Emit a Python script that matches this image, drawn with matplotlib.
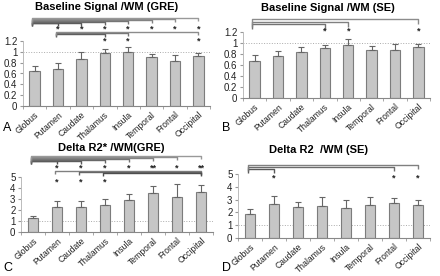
import matplotlib.pyplot as plt
import numpy as np

plt.rcParams['font.family'] = ['Liberation Sans', 'DejaVu Sans']

regions = ['Globus', 'Putamen', 'Caudate', 'Thalamus', 'Insula', 'Temporal', 'Frontal', 'Occipital']

# values and upper error bar lengths
gre_base = [0.64, 0.69, 0.87, 0.97, 1.00, 0.90, 0.84, 0.92]
gre_base_err = [0.10, 0.10, 0.12, 0.08, 0.09, 0.06, 0.11, 0.06]
se_base = [0.68, 0.77, 0.84, 0.91, 0.97, 0.88, 0.87, 0.93]
se_base_err = [0.10, 0.08, 0.09, 0.05, 0.11, 0.07, 0.11, 0.05]
gre_r2 = [1.28, 2.30, 2.30, 2.48, 2.95, 3.58, 3.15, 3.65]
gre_r2_err = [0.17, 0.48, 0.55, 0.52, 0.50, 0.57, 1.25, 0.58]
se_r2 = [1.85, 2.68, 2.40, 2.52, 2.37, 2.55, 2.70, 2.60]
se_r2_err = [0.45, 0.62, 0.40, 0.65, 0.62, 0.63, 0.45, 0.35]

# significance brackets: (from, to) index pairs and star labels
a_row1 = [(0, k) for k in range(1, 8)]
a_row1_stars = ['*'] * 7
a_row2 = [(1, 3), (1, 4), (1, 7)]
a_row2_stars = ['*', '*', '*']
b_row1 = [(0, 3), (0, 4), (0, 7)]
b_row1_stars = ['*', '*', '*']
c_row1 = [(0, k) for k in range(1, 8)]
c_row1_stars = ['*', '*', '*', '*', '**', '*', '**']
c_row2 = [(1, 7), (2, 7), (3, 7)]
c_row2_stars = ['*', '*', '*']
d_row1 = [(0, 1), (0, 6), (0, 7)]
d_row1_stars = ['*', '*', '*']

W, H = 440, 276
fig = plt.figure(figsize=(4.4, 2.76), dpi=100)


def make_axes(left, right, top_px, bottom_px):
    return fig.add_axes([left / W, 1 - bottom_px / H, (right - left) / W, (bottom_px - top_px) / H])


def draw_bars(ax, vals, errs, ymax, ystep, xlim):
    x = np.arange(len(regions))
    ax.bar(x, vals, width=0.45, color='#c6c6c6', edgecolor='#7c7c7c', linewidth=0.8, zorder=2)
    ax.errorbar(x, vals, yerr=[np.zeros(len(vals)), errs], fmt='none',
                ecolor='#666666', elinewidth=0.8, capsize=2, capthick=0.8, zorder=3)
    ax.axhline(1, color='#aaaaaa', linestyle=':', linewidth=0.7, zorder=1)
    ax.set_xlim(*xlim)
    ax.set_ylim(0, ymax)
    ticks = np.arange(0, ymax + 1e-9, ystep)
    ax.set_yticks(ticks)
    ax.set_yticklabels([f'{t:g}' for t in ticks], fontsize=7, color='#222222')
    ax.set_xticks(x)
    ax.set_xticklabels(regions, rotation=42, ha='right', rotation_mode='anchor',
                       fontsize=6.2, color='#222222')
    ax.set_xticks(np.arange(-0.5, len(regions), 1), minor=True)
    ax.tick_params(axis='x', which='major', length=0, pad=3)
    ax.tick_params(axis='x', which='minor', length=2, color='#999999')
    ax.tick_params(axis='y', length=2, color='#999999', pad=2)
    for s in ['top', 'right']:
        ax.spines[s].set_visible(False)
    ax.spines['left'].set_color('#bbbbbb')
    ax.spines['bottom'].set_color('#888888')
    ax.spines['left'].set_linewidth(0.7)
    ax.spines['bottom'].set_linewidth(0.8)


def stack(ax, pairs, y_top_px, ax_top_px, ax_h_px, step_px, drop_px, dark, light, longest_on_top=True):
    tr = ax.get_xaxis_transform()
    n = len(pairs)
    for i, (a, b) in enumerate(pairs):
        k = (n - 1 - i) if longest_on_top else i
        y_px = y_top_px + k * step_px
        y = 1 + (ax_top_px - y_px) / ax_h_px
        yd = y - drop_px / ax_h_px
        shade = dark + (light - dark) * i / max(n - 1, 1)
        ax.plot([a - 0.1, a - 0.1, b, b], [yd, y, y, yd], transform=tr, clip_on=False,
                color=str(shade), linewidth=1.0, solid_capstyle='butt')


def row_stars(ax, idx, stars, star_px, ax_top_px, ax_h_px):
    # asterisk glyph sits high in its box, so nudge the anchor down
    tr = ax.get_xaxis_transform()
    ys = 1 + (ax_top_px - star_px - 2) / ax_h_px
    for k, s in zip(idx, stars):
        ax.text(k, ys, s, transform=tr, ha='center', va='center', fontsize=6.5,
                fontweight='bold', color='#222222')


# A
axA = make_axes(23, 210, 41, 106)
draw_bars(axA, gre_base, gre_base_err, 1.2, 0.2, (-0.42, 7.3))
stack(axA, a_row1, 18, 41, 65, 0.9, 3, 0.3, 0.6)
row_stars(axA, [b for a, b in a_row1], a_row1_stars, 27.5, 41, 65)
stack(axA, a_row2, 32, 41, 65, 1.0, 3, 0.35, 0.55)
row_stars(axA, [b for a, b in a_row2], a_row2_stars, 39, 41, 65)
fig.text(107 / W, 1 - 7 / H, 'Baseline Signal /WM (GRE)', ha='center', va='center',
         fontsize=8, fontweight='bold')
fig.text(3 / W, 1 - 128 / H, 'A', ha='left', va='center', fontsize=9)

# B
axB = make_axes(243, 430, 32, 98)
draw_bars(axB, se_base, se_base_err, 1.2, 0.2, (-0.4, 7.2))
stack(axB, b_row1, 19, 32, 66, 2.5, 5, 0.45, 0.55)
row_stars(axB, [b for a, b in b_row1], b_row1_stars, 29.5, 32, 66)
fig.text(328 / W, 1 - 8 / H, 'Baseline Signal /WM (SE)', ha='center', va='center',
         fontsize=8, fontweight='bold')
fig.text(222 / W, 1 - 128 / H, 'B', ha='left', va='center', fontsize=9)

# C
axC = make_axes(21, 213, 177, 232)
draw_bars(axC, gre_r2, gre_r2_err, 5, 1, (-0.25, 7.23))
stack(axC, c_row1, 156, 177, 55, 0.9, 3, 0.3, 0.6)
row_stars(axC, [b for a, b in c_row1], c_row1_stars, 166, 177, 55)
stack(axC, c_row2, 171, 177, 55, 1.2, 3, 0.5, 0.3, longest_on_top=False)
row_stars(axC, [a for a, b in c_row2], c_row2_stars, 180.5, 177, 55)
fig.text(111 / W, 1 - 148 / H, 'Delta R2* /WM(GRE)', ha='center', va='center',
         fontsize=8, fontweight='bold')
fig.text(3 / W, 1 - 268 / H, 'C', ha='left', va='center', fontsize=9)

# D
axD = make_axes(238, 430, 174, 238)
draw_bars(axD, se_r2, se_r2_err, 5, 1, (-0.4, 7.3))
stack(axD, d_row1, 165, 174, 64, 2.0, 4, 0.35, 0.5)
row_stars(axD, [b for a, b in d_row1], d_row1_stars, 176, 174, 64)
fig.text(318 / W, 1 - 150 / H, 'Delta R2  /WM (SE)', ha='center', va='center',
         fontsize=8, fontweight='bold')
fig.text(222 / W, 1 - 268 / H, 'D', ha='left', va='center', fontsize=9)

fig.savefig('out.png', dpi=100, facecolor='white')
